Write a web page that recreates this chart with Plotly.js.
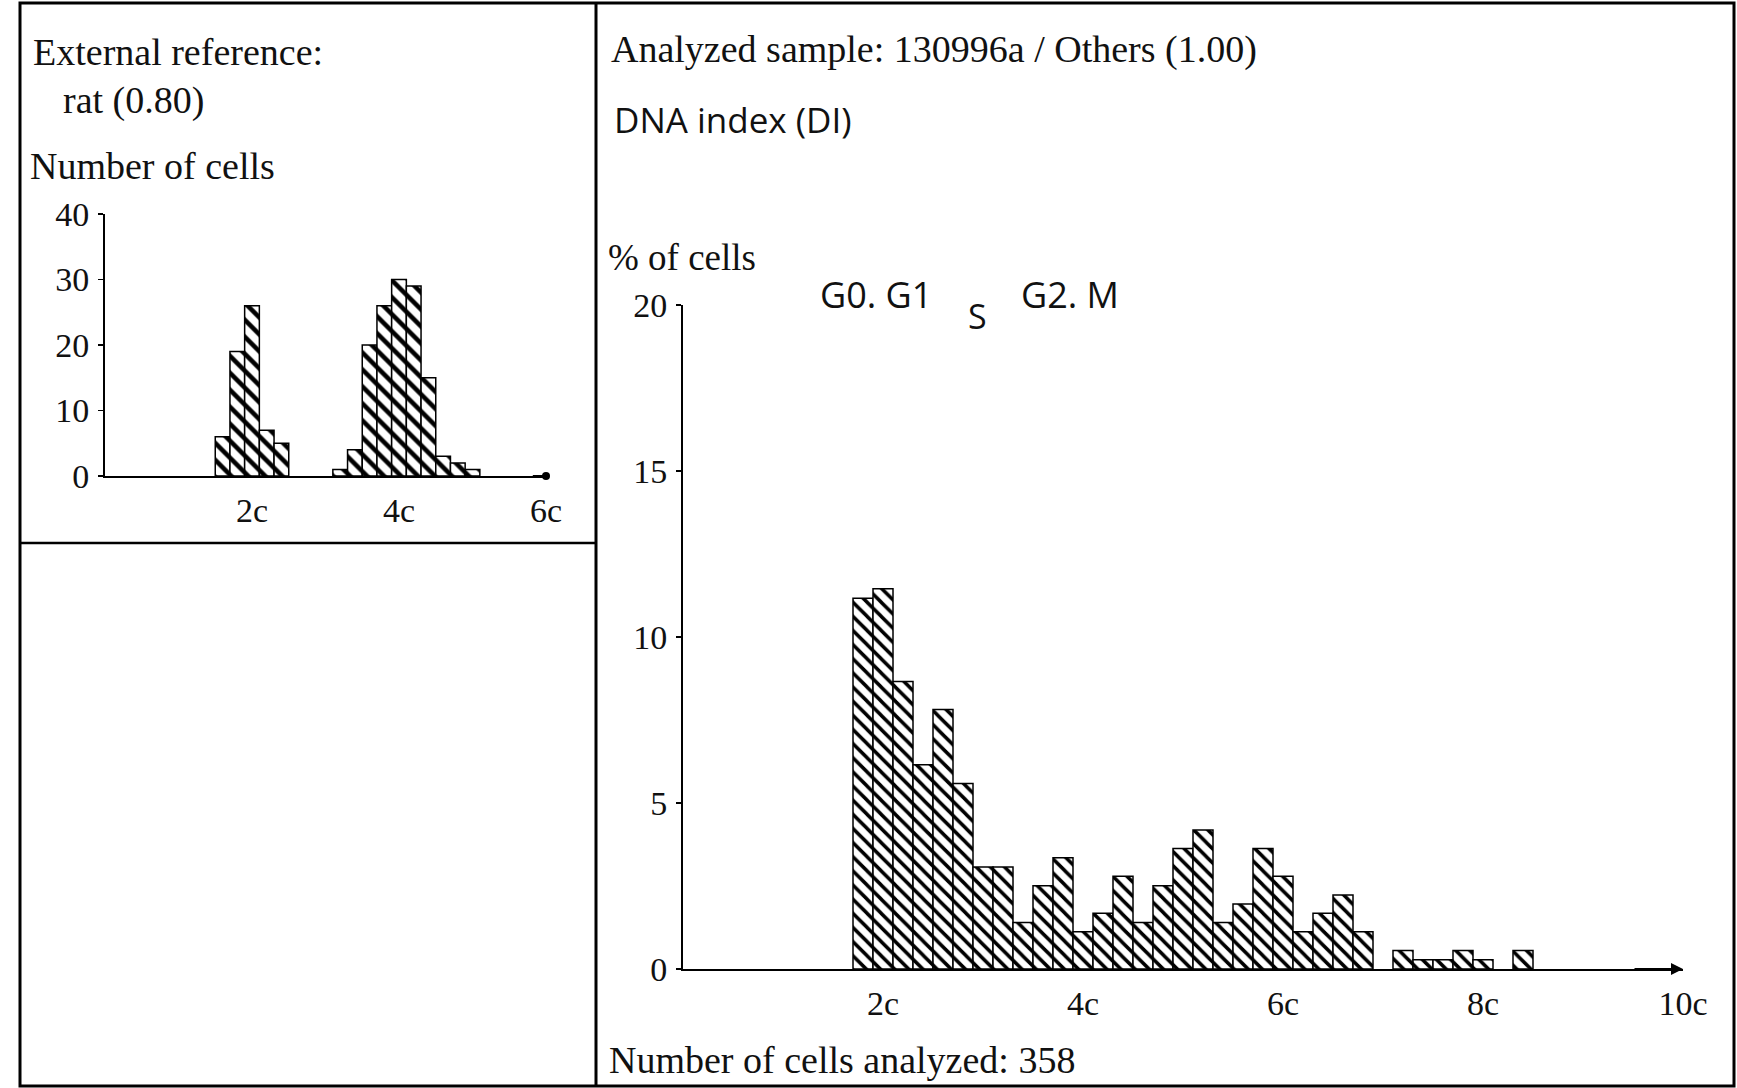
<!DOCTYPE html>
<html><head><meta charset="utf-8">
<script src="https://cdn.plot.ly/plotly-3.0.1.min.js"></script>
<style>html,body{margin:0;padding:0;background:#fff;overflow:hidden}#chart{width:1737px;height:1088px}</style>
</head><body><div id="chart"></div>
<script>
// External reference (rat) histogram: bin centres (in c) and number of cells
const refBins = [1.6, 1.8, 2.0, 2.2, 2.4, 3.2, 3.4, 3.6, 3.8, 4.0, 4.2, 4.4, 4.6, 4.8, 5.0];
const refCounts = [6, 19, 26, 7, 5, 1, 4, 20, 26, 30, 29, 15, 3, 2, 1];
const refXTicks = [2, 4, 6];
const refXTickText = ['2c', '4c', '6c'];
const refYTicks = [0, 10, 20, 30, 40];

// Analyzed sample histogram: bin centres (in c) and % of cells
const sampleBins = [1.8, 2.0, 2.2, 2.4, 2.6, 2.8, 3.0, 3.2, 3.4, 3.6, 3.8, 4.0, 4.2, 4.4, 4.6, 4.8,
  5.0, 5.2, 5.4, 5.6, 5.8, 6.0, 6.2, 6.4, 6.6, 6.8, 7.2, 7.4, 7.6, 7.8, 8.0, 8.4];
const samplePct = [11.17, 11.45, 8.66, 6.15, 7.82, 5.59, 3.07, 3.07, 1.40, 2.51, 3.35, 1.12, 1.68, 2.79, 1.40, 2.51,
  3.63, 4.19, 1.40, 1.96, 3.63, 2.79, 1.12, 1.68, 2.23, 1.12, 0.56, 0.28, 0.28, 0.56, 0.28, 0.56];
const sampleXTicks = [2, 4, 6, 8, 10];
const sampleXTickText = ['2c', '4c', '6c', '8c', '10c'];
const sampleYTicks = [0, 5, 10, 15, 20];

const W = 1737, H = 1088;
const px = v => v / W;
const py = v => 1 - v / H;
const SERIF = 'Liberation Serif, Times New Roman, serif';
const SANS = 'Open Sans, DejaVu Sans, sans-serif';

const traces = [
  {
    type: 'bar', x: refBins, y: refCounts, xaxis: 'x', yaxis: 'y', width: 0.2,
    marker: { color: 'white', line: { color: 'black', width: 1.5 },
      pattern: { shape: '\\', size: 12, solidity: 0.38, fgcolor: 'black', bgcolor: 'white' } },
    hoverinfo: 'x+y', showlegend: false
  },
  {
    type: 'bar', x: sampleBins, y: samplePct, xaxis: 'x2', yaxis: 'y2', width: 0.2,
    marker: { color: 'white', line: { color: 'black', width: 1.5 },
      pattern: { shape: '\\', size: 10, solidity: 0.35, fgcolor: 'black', bgcolor: 'white' } },
    hoverinfo: 'x+y', showlegend: false
  }
];

const axisBase = {
  showgrid: false, zeroline: false, showline: true, linecolor: 'black', linewidth: 2,
  tickfont: { family: SERIF, size: 34, color: '#111' }, fixedrange: true
};

const ann = (text, x, y, font, size) => ({
  text: text, xref: 'paper', yref: 'paper', x: px(x), y: py(y), xanchor: 'left', yanchor: 'middle',
  showarrow: false, font: { family: font, size: size, color: '#111' }
});

const layout = {
  width: W, height: H, autosize: false,
  margin: { l: 0, r: 0, t: 0, b: 0, pad: 0 },
  paper_bgcolor: 'white', plot_bgcolor: 'rgba(0,0,0,0)',
  bargap: 0, showlegend: false,
  xaxis: Object.assign({}, axisBase, {
    domain: [px(105), px(546)], range: [0, 6], anchor: 'y',
    tickmode: 'array', tickvals: refXTicks, ticktext: refXTickText, ticks: '', ticklabelstandoff: 3
  }),
  yaxis: Object.assign({}, axisBase, {
    domain: [py(476), py(214)], range: [0, 40], anchor: 'x',
    tickmode: 'array', tickvals: refYTicks, ticks: 'outside', ticklen: 5, tickwidth: 1.5, tickcolor: 'black',
    ticklabelstandoff: 2
  }),
  xaxis2: Object.assign({}, axisBase, {
    domain: [px(683), px(1683)], range: [0, 10], anchor: 'y2',
    tickmode: 'array', tickvals: sampleXTicks, ticktext: sampleXTickText, ticks: '', ticklabelstandoff: 3
  }),
  yaxis2: Object.assign({}, axisBase, {
    domain: [py(969), py(305)], range: [0, 20], anchor: 'x2',
    tickmode: 'array', tickvals: sampleYTicks, ticks: 'outside', ticklen: 5, tickwidth: 1.5, tickcolor: 'black',
    ticklabelstandoff: 2
  }),
  shapes: [
    { type: 'rect', xref: 'paper', yref: 'paper', x0: px(20), x1: px(1734), y0: py(1086), y1: py(3),
      line: { color: 'black', width: 3 } },
    { type: 'line', xref: 'paper', yref: 'paper', x0: px(596), x1: px(596), y0: py(1086), y1: py(3),
      line: { color: 'black', width: 3 } },
    { type: 'line', xref: 'paper', yref: 'paper', x0: px(20), x1: px(596), y0: py(543), y1: py(543),
      line: { color: 'black', width: 2.5 } }
  ],
  annotations: [
    ann('External reference:', 31, 52, SERIF, 38),
    ann('rat (0.80)', 61, 100, SERIF, 38),
    ann('Number of cells', 28, 166, SERIF, 38),
    ann('Analyzed sample: 130996a / Others (1.00)', 609, 50, SERIF, 38),
    ann('DNA index (DI)', 612, 119, SANS, 35),
    ann('% of cells', 606, 258, SERIF, 37),
    ann('G0. G1', 818, 294, SANS, 36),
    ann('S', 966, 316, SANS, 34),
    ann('G2. M', 1019, 294, SANS, 36),
    ann('Number of cells analyzed: 358', 607, 1060, SERIF, 38),
    { xref: 'x2', yref: 'y2', axref: 'x2', ayref: 'y2', x: 10, y: 0, ax: 9.5, ay: 0, text: '',
      showarrow: true, arrowhead: 2, arrowsize: 1.2, arrowwidth: 2, arrowcolor: 'black' },
    { xref: 'x', yref: 'y', axref: 'x', ayref: 'y', x: 6, y: 0, ax: 5.8, ay: 0, text: '',
      showarrow: true, arrowhead: 6, arrowsize: 1, arrowwidth: 2, arrowcolor: 'black' }
  ]
};

Plotly.newPlot('chart', traces, layout, { displayModeBar: false, staticPlot: true });
</script>
</body></html>
